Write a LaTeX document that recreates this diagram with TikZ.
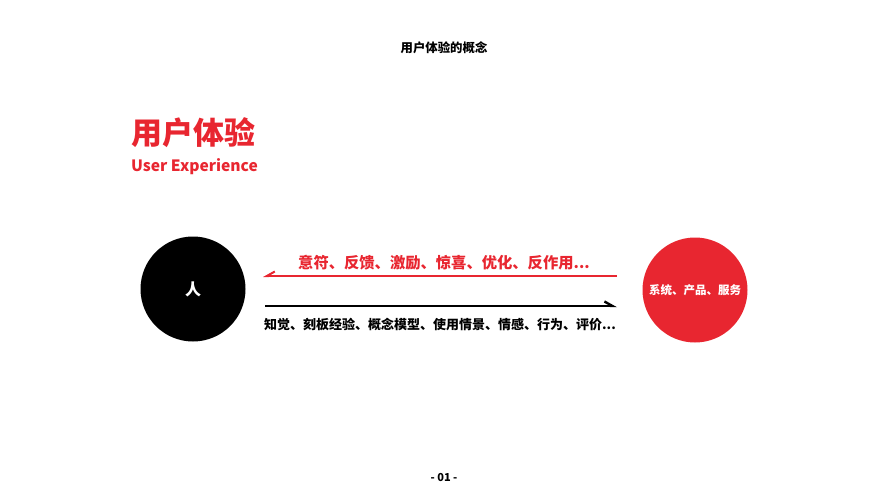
\documentclass[tikz,border=0pt]{standalone}
\usepackage{fontspec}
\setmainfont{Noto Sans CJK SC}
\usetikzlibrary{arrows.meta}
\definecolor{ured}{RGB}{232,38,48}
\tikzset{
  lbl/.style={font=\bfseries, inner sep=0pt},
  circ/.style={circle, inner sep=0pt, minimum size=105pt},
}
\begin{document}
\begin{tikzpicture}[x=1pt,y=-1pt]
\useasboundingbox (0,0) rectangle (889,500);
\node[lbl, font=\fontsize{12.4}{14}\selectfont\bfseries] (title) at (444,48) {用户体验的概念};
\node[lbl, anchor=west, text=ured, font=\fontsize{31}{34}\selectfont\bfseries] (h1) at (131,133) {用户体验};
\node[lbl, anchor=west, text=ured, font=\fontsize{15.6}{18}\selectfont\bfseries] (h2) at (131,167) {User Experience};
\node[circ, fill=black, text=white, font=\fontsize{16}{18}\selectfont\bfseries] (man) at (193,289) {人};
\node[circ, fill=ured, text=white, font=\fontsize{11.5}{13}\selectfont\bfseries] (sys) at (695,290) {系统、产品、服务};
\coordinate (ra) at (617,276);
\coordinate (rb) at (263,276);
\coordinate (ba) at (265,306);
\coordinate (bb) at (617,306);
\draw[ured, line width=1.5pt, -{Straight Barb[harpoon,swap,length=8pt,width=9pt,line width=2pt]}] (ra) -- (rb);
\draw[black, line width=2pt, -{Straight Barb[harpoon,length=8pt,width=9pt,line width=2.4pt]}] (ba) -- (bb);
\node[lbl, text=ured, font=\fontsize{15.3}{17}\selectfont\bfseries] (rt) at (444,263) {意符、反馈、激励、惊喜、优化、反作用...};
\node[lbl, font=\fontsize{13}{15}\selectfont\bfseries] (bt) at (440,325) {知觉、刻板经验、概念模型、使用情景、情感、行为、评价...};
\node[lbl, font=\fontsize{11}{13}\selectfont\bfseries] (pg) at (444,478) {- 01 -};
\end{tikzpicture}
\end{document}
